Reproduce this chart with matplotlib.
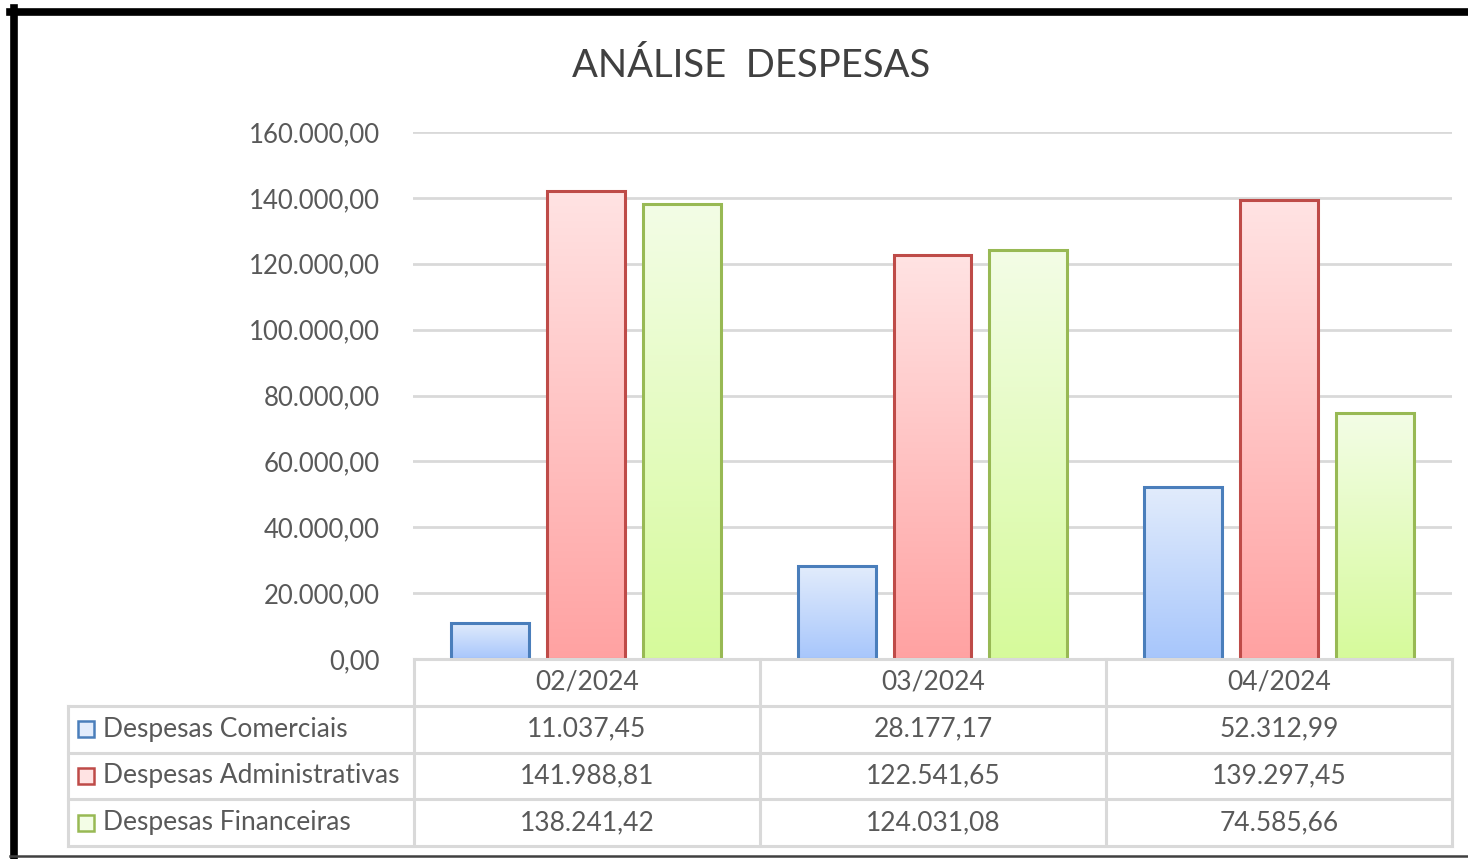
"""Análise despesas: clustered bars with a data table underneath."""

import numpy as np
import matplotlib.pyplot as plt
from matplotlib.colors import to_rgb
from matplotlib.lines import Line2D
from matplotlib.patches import Rectangle

plt.rcParams["font.family"] = ["Lato", "DejaVu Sans"]

months = ["02/2024", "03/2024", "04/2024"]
series = ["Despesas Comerciais", "Despesas Administrativas", "Despesas Financeiras"]
comerciais = [11037.45, 28177.17, 52312.99]
administrativas = [141988.81, 122541.65, 139297.45]
financeiras = [138241.42, 124031.08, 74585.66]
values = [comerciais, administrativas, financeiras]

edge = ["#4a7ebb", "#be4b48", "#98b954"]
top_col = ["#e2ecfc", "#ffe3e3", "#f3fde6"]
bot_col = ["#a7c6fb", "#ffa2a2", "#d6fa9b"]
text_col = "#595959"
grid_col = "#d9d9d9"
fs = 19


def fmt(v):
    s = f"{v:,.2f}"
    return s.replace(",", "X").replace(".", ",").replace("X", ".")


W, H = 1468, 859
fig = plt.figure(figsize=(W / 100, H / 100), dpi=100)


def box(x0, y0, x1, y1):
    return [x0 / W, 1 - y1 / H, (x1 - x0) / W, (y1 - y0) / H]


ax = fig.add_axes(box(413, 132, 1452, 659))
x = np.arange(len(months))
bw = 0.225
offs = [-0.277, 0.0, 0.277]
grad = np.linspace(0, 1, 256)[:, None, None]
for i, vals in enumerate(values):
    c0 = np.array(to_rgb(top_col[i]))
    c1 = np.array(to_rgb(bot_col[i]))
    img = c0 * (1 - grad) + c1 * grad
    for xi, v in zip(x, vals):
        left = xi + offs[i] - bw / 2
        ax.imshow(img, extent=(left, left + bw, 0, v), origin="upper",
                  aspect="auto", zorder=2, interpolation="bilinear")
        ax.add_patch(Rectangle((left, 0), bw, v, fill=False, edgecolor=edge[i],
                               linewidth=2.2, zorder=3))

ticks = np.arange(0, 160001, 20000)
ax.set_xlim(-0.5, 2.5)
ax.set_ylim(0, 160000)
ax.set_yticks(ticks)
ax.set_yticklabels([fmt(t) for t in ticks])
ax.tick_params(axis="y", length=0, pad=24, labelsize=18.5, labelcolor=text_col)
ax.set_xticks([])
ax.grid(axis="y", color=grid_col, linewidth=2)
ax.set_axisbelow(True)
for s in ax.spines.values():
    s.set_visible(False)

# data table
tab = fig.add_axes(box(68, 659, 1452, 846))
tab.set_xlim(-1.5, 2.5)
tab.set_ylim(4, 0)
tab.axis("off")
lw = 2.2
tab.plot([-0.5, 2.5], [0, 0], color=grid_col, lw=lw, clip_on=False)
for r in range(1, 5):
    tab.plot([-1.5, 2.5], [r, r], color=grid_col, lw=lw, clip_on=False)
tab.plot([-1.5, -1.5], [1, 4], color=grid_col, lw=lw, clip_on=False)
for c in [-0.5, 0.5, 1.5, 2.5]:
    tab.plot([c, c], [0, 4], color=grid_col, lw=lw, clip_on=False)
for j, m in enumerate(months):
    tab.text(j, 0.5, m, ha="center", va="center", fontsize=fs, color=text_col)
for i, name in enumerate(series):
    tab.add_patch(Rectangle((-1.471, i + 1.33), 0.046, 0.34, facecolor=top_col[i],
                            edgecolor=edge[i], lw=1.8, clip_on=False))
    tab.text(-1.399, i + 1.5, name, ha="left", va="center", fontsize=fs, color=text_col)
    for j, v in enumerate(values[i]):
        tab.text(j, i + 1.5, fmt(v), ha="center", va="center", fontsize=fs, color=text_col)

fig.text(751 / W, 1 - 66 / H, "ANÁLISE  DESPESAS", ha="center", va="center",
         fontsize=27.5, color="#404040")

# screenshot frame
fig.add_artist(Line2D([10 / W, 1], [1 - 11.5 / H] * 2, color="black", lw=5.5))
fig.add_artist(Line2D([13.5 / W] * 2, [0, 1 - 8 / H], color="black", lw=5.5))
fig.add_artist(Line2D([10 / W, 1], [1 - 856 / H] * 2, color="#404040", lw=1.8))

fig.savefig("out.png", dpi=100, facecolor="white")
